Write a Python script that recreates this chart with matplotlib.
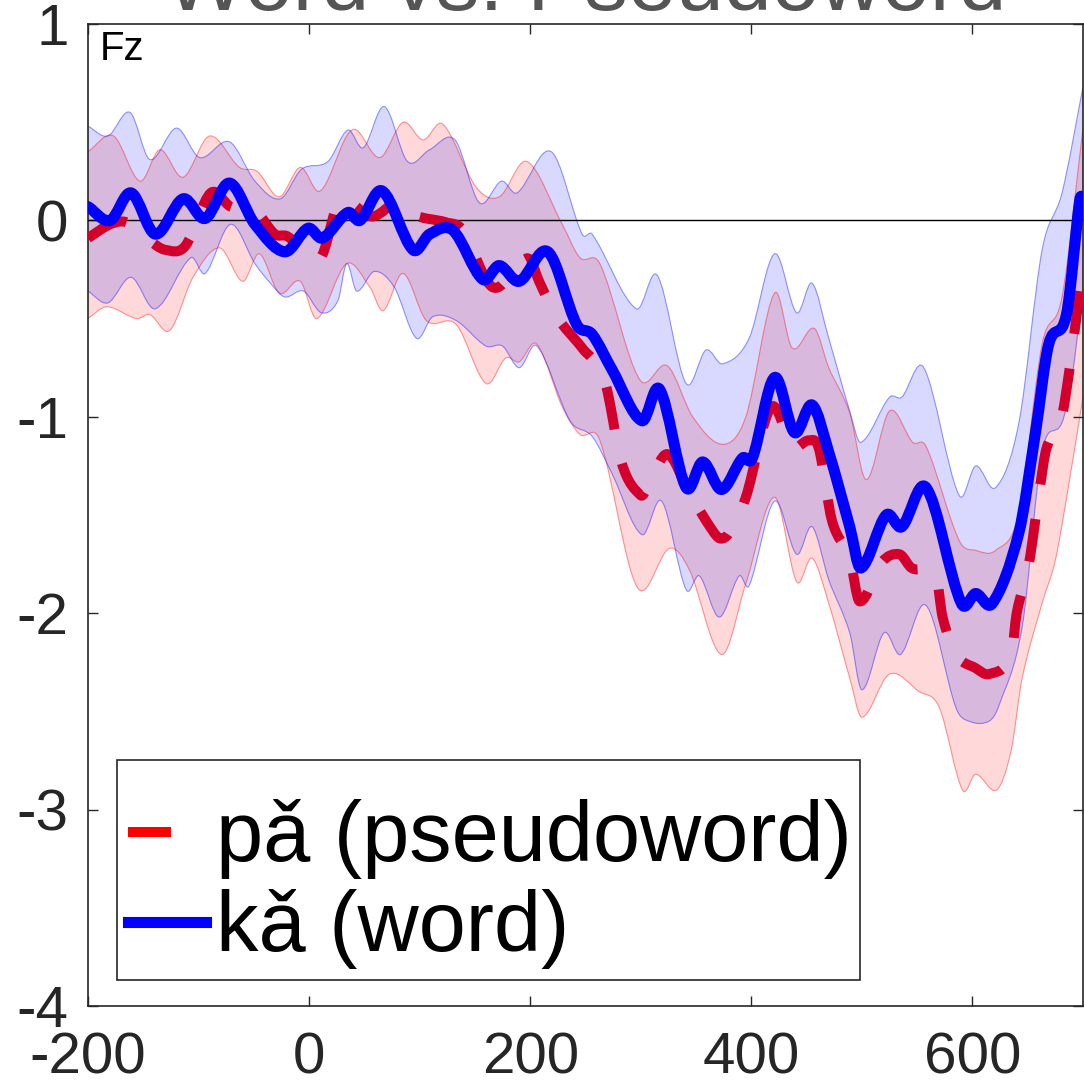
import matplotlib
matplotlib.use('Agg')
import numpy as np
from matplotlib import pyplot as plt
from matplotlib.lines import Line2D
from matplotlib.patches import Rectangle, PathPatch
from matplotlib.path import Path

plt.rcParams['font.family'] = ['Liberation Sans', 'DejaVu Sans']
plt.rcParams['axes.unicode_minus'] = False

# mean waveforms, (time in ms, amplitude)
word_t = [-200, -180, -161, -139, -114, -94, -72, -49, -22, -1, 12, 35, 46, 66, 94, 109, 130,
          157, 172, 190, 216, 242, 256, 274, 301, 317, 341, 356, 373, 392, 401, 421, 439, 455,
          470, 489, 499, 522, 536, 558, 590, 603, 618, 642, 657, 669, 685, 697, 700]
word_v = [0.07, 0.00, 0.14, -0.07, 0.11, 0.01, 0.19, -0.02, -0.16, -0.04, -0.09, 0.04, 0.00, 0.15,
          -0.15, -0.07, -0.05, -0.30, -0.23, -0.31, -0.16, -0.53, -0.58, -0.76, -1.02, -0.86, -1.36,
          -1.23, -1.37, -1.21, -1.21, -0.80, -1.08, -0.94, -1.18, -1.56, -1.77, -1.50, -1.56, -1.36,
          -1.95, -1.90, -1.95, -1.59, -1.08, -0.63, -0.48, 0.10, 0.12]

pseudo_t = [-200, -180, -165, -145, -130, -112, -89, -71, -49, -31, -20, 10, 26, 35, 57, 82, 94,
            124, 139, 166, 192, 200, 208, 224, 247, 267, 283, 300, 306, 324, 344, 365, 372, 380,
            395, 418, 437, 452, 461, 473, 489, 498, 518, 534, 545, 567, 573, 585, 603, 615, 635,
            640, 651, 660, 667, 680, 688, 695, 700]
pseudo_v = [-0.09, -0.02, -0.01, -0.10, -0.15, -0.13, 0.14, 0.07, 0.05, -0.07, -0.08, -0.19, 0.09,
            0.10, 0.02, 0.10, 0.03, -0.01, -0.05, -0.34, -0.21, -0.20, -0.31, -0.49, -0.65, -0.81,
            -1.24, -1.40, -1.36, -1.19, -1.39, -1.58, -1.62, -1.59, -1.41, -0.95, -1.15, -1.12,
            -1.16, -1.53, -1.72, -1.94, -1.74, -1.70, -1.77, -1.81, -2.02, -2.21, -2.28, -2.31,
            -2.22, -2.00, -1.75, -1.40, -1.16, -1.02, -0.75, -0.45, -0.25]

# confidence bands
word_hi_t = [-200, -182, -162, -144, -120, -99, -72, -49, -26, -7, 17, 35, 49, 68, 89, 109, 132,
             154, 174, 188, 219, 247, 256, 296, 315, 341, 359, 374, 398, 421, 441, 455, 470, 489,
             499, 525, 536, 556, 588, 603, 621, 642, 663, 681, 700]
word_hi_v = [0.48, 0.43, 0.55, 0.31, 0.47, 0.32, 0.40, 0.20, 0.11, 0.26, 0.30, 0.46, 0.37, 0.58,
             0.30, 0.36, 0.41, 0.09, 0.20, 0.14, 0.35, -0.07, -0.07, -0.45, -0.28, -0.83, -0.66,
             -0.73, -0.60, -0.17, -0.47, -0.32, -0.60, -0.97, -1.13, -0.90, -0.90, -0.75, -1.40,
             -1.25, -1.36, -1.03, -0.15, 0.14, 0.68]
word_lo_t = [-200, -182, -161, -139, -107, -94, -71, -49, -35, -22, -5, 11, 26, 34, 43, 59, 77, 97,
             112, 133, 160, 175, 190, 206, 236, 256, 274, 301, 319, 341, 353, 371, 389, 398, 421,
             441, 455, 470, 489, 500, 520, 535, 558, 585, 597, 615, 624, 645, 663, 681, 690, 700]
word_lo_v = [-0.36, -0.42, -0.29, -0.45, -0.19, -0.27, -0.02, -0.22, -0.32, -0.39, -0.36, -0.47,
             -0.41, -0.22, -0.36, -0.26, -0.34, -0.60, -0.49, -0.51, -0.64, -0.64, -0.75, -0.64,
             -1.02, -1.10, -1.29, -1.60, -1.43, -1.88, -1.81, -2.02, -1.81, -1.86, -1.43, -1.70,
             -1.56, -1.83, -2.10, -2.39, -2.10, -2.21, -1.96, -2.48, -2.55, -2.55, -2.47, -2.07,
             -1.18, -1.03, -0.80, -0.35]

pseudo_hi_t = [-200, -177, -153, -135, -114, -90, -63, -47, -27, -8, 10, 34, 43, 64, 85, 103, 121,
               151, 172, 197, 229, 245, 263, 299, 324, 347, 374, 395, 421, 437, 457, 470, 489, 504,
               525, 546, 558, 588, 603, 621, 642, 663, 681, 700]
pseudo_hi_v = [0.35, 0.43, 0.20, 0.36, 0.22, 0.43, 0.27, 0.25, 0.12, 0.27, 0.15, 0.43, 0.46, 0.32,
               0.50, 0.41, 0.49, 0.17, 0.12, 0.30, -0.02, -0.19, -0.22, -0.81, -0.74, -1.00, -1.14,
               -1.00, -0.37, -0.65, -0.55, -0.75, -0.98, -1.32, -0.97, -1.13, -1.15, -1.63, -1.68,
               -1.68, -1.49, -0.63, -0.39, 0.47]
pseudo_lo_t = [-200, -183, -156, -144, -126, -105, -81, -60, -45, -27, -8, 7, 34, 55, 67, 85, 106,
               133, 160, 178, 190, 206, 229, 245, 263, 297, 326, 344, 373, 395, 421, 441, 455, 470,
               489, 500, 525, 552, 570, 591, 603, 622, 635, 645, 663, 675, 687, 700]
pseudo_lo_v = [-0.50, -0.44, -0.50, -0.48, -0.56, -0.29, -0.14, -0.31, -0.17, -0.37, -0.31, -0.50,
               -0.22, -0.34, -0.46, -0.27, -0.51, -0.53, -0.83, -0.70, -0.72, -0.63, -0.95, -1.09,
               -1.12, -1.87, -1.67, -1.78, -2.21, -1.85, -1.41, -1.84, -1.72, -1.95, -2.33, -2.53,
               -2.31, -2.40, -2.48, -2.90, -2.82, -2.90, -2.70, -2.33, -1.95, -1.73, -1.35, -0.90]

labels = ['pǎ (pseudoword)', 'kǎ (word)']
x_ticks = [-200, 0, 200, 400, 600]
y_ticks = [-4, -3, -2, -1, 0, 1]

W, H = 1084, 1088
ink = '#262626'


def curve(xs, ys):
    # smooth bezier segments through the read points (hermite in t)
    x = np.asarray(xs, float)
    y = np.asarray(ys, float)
    n = len(x)
    s = np.zeros(n)
    s[1:-1] = (y[2:] - y[:-2]) / (x[2:] - x[:-2])
    s[0] = (y[1] - y[0]) / (x[1] - x[0])
    s[-1] = (y[-1] - y[-2]) / (x[-1] - x[-2])
    verts = [(x[0], y[0])]
    for i in range(n - 1):
        d = (x[i + 1] - x[i]) / 3
        verts += [(x[i] + d, y[i] + s[i] * d),
                  (x[i + 1] - d, y[i + 1] - s[i + 1] * d),
                  (x[i + 1], y[i + 1])]
    return verts


def line_path(xs, ys):
    v = curve(xs, ys)
    return Path(v, [Path.MOVETO] + [Path.CURVE4] * (len(v) - 1))


def band(t_hi, v_hi, t_lo, v_lo, color):
    top = curve(t_hi, v_hi)
    bot = curve(t_lo[::-1], v_lo[::-1])
    verts = top + bot + [top[0]]
    codes = ([Path.MOVETO] + [Path.CURVE4] * (len(top) - 1) + [Path.LINETO]
             + [Path.CURVE4] * (len(bot) - 1) + [Path.CLOSEPOLY])
    ax.add_patch(PathPatch(Path(verts, codes), facecolor=color, alpha=0.15, lw=0, zorder=1))
    for tt, vv in ((t_hi, v_hi), (t_lo, v_lo)):
        ax.add_patch(PathPatch(line_path(tt, vv), fill=False, edgecolor=color, alpha=0.4,
                               lw=0.8, zorder=2))


fig = plt.figure(figsize=(W / 100, H / 100), dpi=100)
ax = fig.add_axes([88 / W, 82 / H, 995 / W, 982 / H])

band(pseudo_hi_t, pseudo_hi_v, pseudo_lo_t, pseudo_lo_v, 'red')
band(word_hi_t, word_hi_v, word_lo_t, word_lo_v, 'blue')

ax.axhline(0, color='k', lw=1.0, zorder=3)

ax.add_patch(PathPatch(line_path(pseudo_t, pseudo_v), fill=False, edgecolor='#d2002a', lw=7.2,
                       linestyle=(0, (4.3, 3.5)), capstyle='butt', joinstyle='round', zorder=4))
ax.add_patch(PathPatch(line_path(word_t, word_v), fill=False, edgecolor='blue', lw=8,
                       capstyle='round', joinstyle='round', zorder=5))

ax.set_xlim(-200, 700)
ax.set_ylim(-4, 1)
ax.set_xticks(x_ticks)
ax.set_yticks(y_ticks)
ax.tick_params(direction='in', length=7, width=1, colors=ink, labelsize=42,
               top=True, right=True)
ax.tick_params(axis='x', pad=18.5)
ax.tick_params(axis='y', pad=14)
for sp in ax.spines.values():
    sp.set_color(ink)
    sp.set_linewidth(1.2)

ax.text(0.012, 0.994, 'Fz', transform=ax.transAxes, fontsize=29, va='top', ha='left',
        color='k', zorder=6)

# legend box (MATLAB style, taller than the entries need)
ax.add_patch(Rectangle((0.0291, 0.0265), 0.7468, 0.224, transform=ax.transAxes,
                       facecolor='white', edgecolor=ink, lw=1.2, zorder=6))

handles = [Line2D([], [], color='red', lw=7.2, dashes=(4.3, 3.5)),
           Line2D([], [], color='blue', lw=8)]
leg = ax.legend(handles, labels, loc='lower left', bbox_to_anchor=(0.029, 0.026),
                borderaxespad=0, fontsize=61, handlelength=0.92, handletextpad=0.12,
                borderpad=0.13, labelspacing=0.12, frameon=False)
leg.set_zorder(7)

fig.text(0.54, (H - 10) / H, 'Word vs. Pseudoword', fontsize=62, color='#555555',
         ha='center', va='baseline')

fig.savefig('out.png', dpi=100)
